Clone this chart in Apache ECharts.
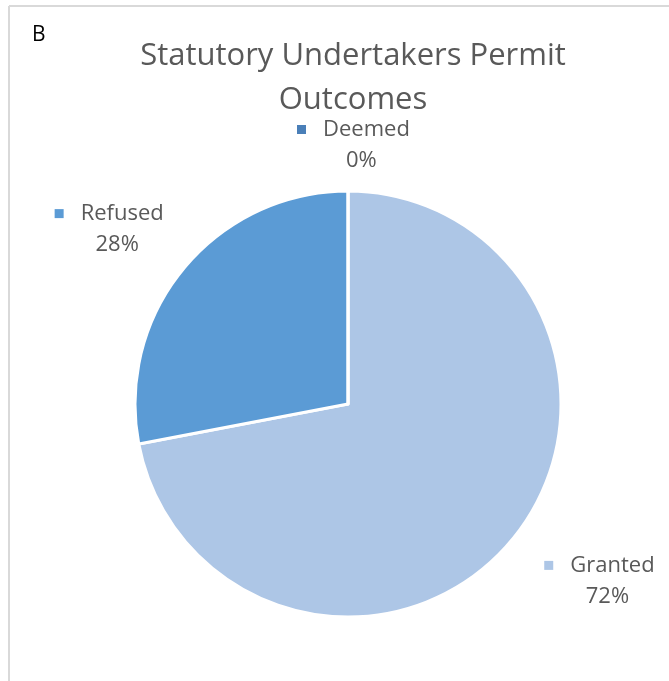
<!DOCTYPE html>
<html>
<head>
  <meta charset="UTF-8">
  <title>Statutory Undertakers Permit Outcomes</title>
  <script src="https://cdn.jsdelivr.net/npm/echarts@6/dist/echarts.min.js"></script>
  <style>
    html, body { margin: 0; padding: 0; background: #fff; }
    #main { width: 669px; height: 681px; }
  </style>
</head>
<body>
<div id="main"></div>
<script>
  // chart data
  const categories = ['Granted', 'Refused', 'Deemed'];
  const percentages = [72, 28, 0];
  const colors = ['#adc6e6', '#5b9bd5', '#4a7fb8'];

  const FONT = '"Open Sans", Lato, sans-serif';

  // small nudges so labels sit where the original put them
  const labelNudge = [[4, 22], [8, -20], [-56, -16]];

  const chart = echarts.init(document.getElementById('main'), null, { renderer: 'canvas' });
  chart.setOption({
    animation: false,
    backgroundColor: '#fff',
    graphic: [
      // chart frame (left + top edge only visible)
      { type: 'line', shape: { x1: 9, y1: 6, x2: 669, y2: 6 }, style: { stroke: '#d9d9d9', lineWidth: 2 } },
      { type: 'line', shape: { x1: 9, y1: 6, x2: 9, y2: 681 }, style: { stroke: '#d9d9d9', lineWidth: 2 } },
      { type: 'text', left: 32, top: 25, style: { text: 'B', font: '21px ' + FONT, fill: '#000' } }
    ],
    title: {
      text: 'Statutory Undertakers Permit\nOutcomes',
      left: 348,
      textAlign: 'center',
      top: 29,
      textStyle: { fontFamily: FONT, fontSize: 31, fontWeight: 'normal', color: '#595959', lineHeight: 44 }
    },
    series: [{
      type: 'pie',
      center: [348, 404],
      radius: 213,
      startAngle: 90,
      clockwise: true,
      itemStyle: { borderColor: '#fff', borderWidth: 3 },
      labelLine: { show: false, length: 30, length2: 0 },
      labelLayout: p => ({ dx: labelNudge[p.dataIndex][0], dy: labelNudge[p.dataIndex][1] }),
      label: {
        show: true,
        position: 'outside',
        formatter: p => '{sq' + p.dataIndex + '|}{gap|}{n|' + p.name + '}\n{v|' + p.value + '%}',
        rich: Object.assign({
          gap: { width: 17 },
          n: { fontFamily: FONT, fontSize: 22, color: '#595959', lineHeight: 31 },
          v: { fontFamily: FONT, fontSize: 22, color: '#595959', lineHeight: 31, align: 'center', padding: [0, 0, 0, 16] }
        }, ...colors.map((c, i) => ({ ['sq' + i]: { width: 9, height: 9, backgroundColor: c } })))
      },
      data: categories.map((name, i) => ({
        name: name,
        value: percentages[i],
        itemStyle: { color: colors[i] }
      }))
    }]
  });
</script>
</body>
</html>
